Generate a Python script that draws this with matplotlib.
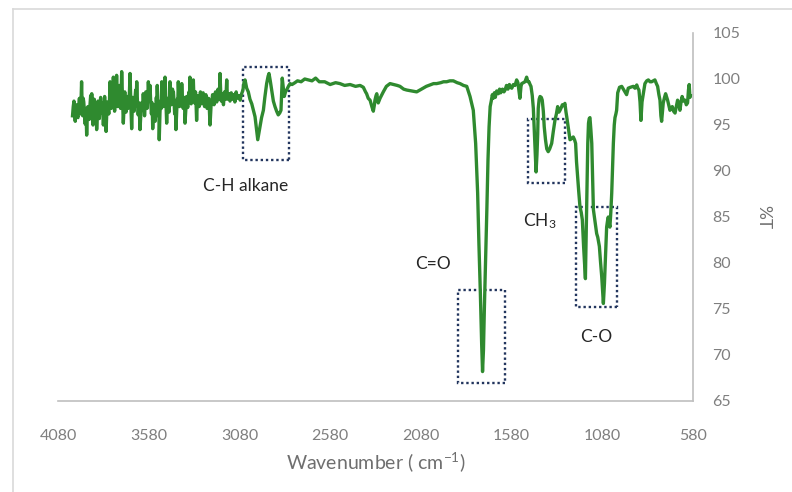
import numpy as np
import matplotlib
matplotlib.use("Agg")
import matplotlib.pyplot as plt
from matplotlib.patches import Rectangle
from matplotlib.lines import Line2D

plt.rcParams['font.family'] = ['Lato', 'DejaVu Sans']
plt.rcParams['mathtext.fontset'] = 'custom'
plt.rcParams['mathtext.rm'] = 'Lato'
plt.rcParams['mathtext.it'] = 'Lato'

# FTIR spectrum (wavenumber cm-1, %T)
# noisy high-wavenumber part
wn_high = [4000, 3996, 3992, 3988, 3985, 3981, 3978, 3974, 3970, 3966, 3962, 3958, 3955, 3952,
           3950, 3947, 3944, 3941, 3938, 3934, 3930, 3926, 3922, 3918, 3915, 3911, 3908, 3904,
           3900, 3897, 3894, 3890, 3887, 3883, 3880, 3876, 3873, 3870, 3867, 3863, 3860, 3856,
           3852, 3848, 3845, 3841, 3838, 3834, 3830, 3826, 3823, 3819, 3815, 3811, 3808, 3804,
           3800, 3796, 3793, 3789, 3786, 3783, 3780, 3778, 3775, 3771, 3768, 3765, 3762, 3760,
           3757, 3754, 3750, 3746, 3742, 3739, 3735, 3732, 3729, 3724, 3720, 3716, 3712, 3708,
           3705, 3701, 3698, 3694, 3690, 3686, 3683, 3678, 3674, 3671, 3668, 3664, 3660, 3656,
           3652, 3649, 3646, 3642, 3638, 3633, 3628, 3624, 3620, 3615, 3610, 3606, 3603, 3599,
           3596, 3592, 3589, 3585, 3582, 3577, 3573, 3569, 3565, 3561, 3558, 3555, 3552, 3548,
           3545, 3541, 3538, 3535, 3533, 3530, 3527, 3524, 3522, 3518, 3515, 3511, 3508, 3504,
           3500, 3497, 3495, 3492, 3490, 3485, 3481, 3478, 3475, 3471, 3468, 3465, 3463, 3459,
           3455, 3452, 3449, 3446, 3444, 3440, 3437, 3433, 3430, 3426, 3423, 3420, 3417, 3413,
           3410, 3407, 3404, 3401, 3398, 3394, 3390, 3387, 3385, 3382, 3380, 3375, 3371, 3368,
           3365, 3361, 3358, 3355, 3353, 3349, 3346, 3343, 3340, 3337, 3334, 3331, 3328, 3325,
           3322, 3319, 3316, 3313, 3310, 3306, 3302, 3298, 3295, 3291, 3288, 3284, 3280, 3276,
           3272, 3268, 3265, 3261, 3258, 3254, 3250, 3246, 3242, 3238, 3235, 3231, 3228, 3224,
           3220, 3216, 3212, 3208, 3205, 3201, 3198, 3195, 3192, 3189, 3187, 3183, 3180, 3177,
           3174, 3171, 3168, 3165, 3162, 3159, 3156, 3153, 3150, 3147, 3144, 3141, 3138, 3135,
           3132, 3128, 3125, 3121, 3118, 3115, 3112, 3108, 3105, 3101, 3098, 3094, 3090, 3086,
           3083, 3079, 3076, 3072, 3068, 3064]
t_high = [96.0, 97.0, 97.6, 96.1, 95.4, 96.8, 97.2, 96.0, 95.8, 97.0, 97.9, 96.7, 96.2, 98.3,
          99.7, 97.1, 96.0, 97.9, 97.5, 96.3, 95.1, 96.8, 93.9, 96.2, 97.0, 96.3, 95.6, 97.1,
          98.2, 96.6, 98.4, 96.8, 95.0, 96.9, 97.8, 96.5, 96.0, 97.3, 94.5, 96.4, 97.6, 96.8,
          95.7, 97.3, 98.0, 96.9, 96.3, 97.4, 95.0, 96.7, 98.1, 96.5, 94.3, 96.4, 97.5, 96.8,
          96.2, 97.8, 99.7, 97.5, 96.8, 97.9, 98.9, 97.8, 100.2, 97.9, 96.5, 97.6, 98.7, 97.4,
          100.4, 98.2, 97.0, 98.0, 99.3, 97.6, 96.8, 98.2, 100.8, 97.6, 95.2, 97.0, 98.6, 97.2,
          96.4, 97.4, 98.1, 96.8, 97.0, 98.7, 100.6, 97.0, 94.6, 96.6, 98.0, 97.1, 96.5, 97.8,
          98.8, 97.6, 99.7, 97.5, 96.1, 97.4, 94.5, 96.0, 97.4, 96.6, 98.4, 97.2, 96.0, 97.3,
          98.6, 97.4, 96.8, 98.1, 99.7, 97.8, 99.3, 97.5, 96.2, 97.4, 94.6, 96.2, 97.2, 96.4,
          95.4, 96.8, 98.0, 97.1, 99.3, 97.3, 96.0, 96.6, 93.4, 96.3, 97.6, 96.8, 99.7, 97.9,
          97.0, 97.6, 98.8, 97.4, 100.2, 97.3, 95.2, 96.9, 97.9, 97.2, 96.4, 97.6, 99.7, 97.9,
          97.2, 97.9, 98.9, 97.6, 98.6, 97.5, 96.2, 97.2, 94.5, 96.4, 97.8, 97.0, 99.7, 97.8,
          97.0, 97.7, 98.4, 97.5, 99.5, 97.7, 96.8, 97.4, 98.0, 97.0, 95.2, 96.9, 98.1, 97.3,
          96.9, 97.7, 98.6, 97.5, 100.2, 98.0, 97.3, 97.8, 98.5, 97.6, 99.9, 98.0, 97.4, 98.0,
          98.6, 97.3, 95.5, 97.1, 98.2, 97.4, 97.0, 97.9, 98.6, 97.6, 97.3, 98.1, 98.5, 97.5,
          97.0, 97.8, 98.3, 97.4, 96.8, 97.4, 97.9, 96.8, 95.0, 96.6, 97.6, 97.8, 98.3, 97.6,
          97.2, 97.9, 98.6, 97.8, 97.5, 98.2, 98.9, 98.0, 97.8, 98.8, 100.6, 98.4, 97.6, 98.0,
          98.4, 97.7, 97.2, 97.9, 98.6, 98.0, 97.8, 98.6, 99.9, 98.4, 97.8, 98.1, 98.4, 97.9,
          97.6, 98.1, 98.5, 98.0, 97.8, 98.1, 98.3, 97.8, 97.5, 98.1, 98.6, 98.1, 97.9, 98.0,
          98.2, 97.9, 97.7, 98.1, 98.4, 98.6]

# C-H stretch region through to the carbonyl
wn_mid = [3060, 3055, 3049, 3040, 3031, 3022, 3012, 3003, 2994, 2986, 2979, 2972, 2967, 2958,
          2948, 2940, 2930, 2922, 2917, 2910, 2902, 2893, 2884, 2875, 2866, 2858, 2851, 2847,
          2844, 2839, 2833, 2826, 2820, 2810, 2801, 2790, 2774, 2760, 2740, 2720, 2700, 2680,
          2660, 2640, 2610, 2580, 2550, 2526, 2500, 2470, 2440, 2415, 2397, 2385, 2379, 2370,
          2360, 2350, 2342, 2336, 2333, 2327, 2323, 2315, 2305, 2295, 2287, 2270, 2250, 2230,
          2210, 2195, 2175, 2158, 2130, 2103, 2085, 2067, 2050, 2030, 2010, 1993, 1970, 1955,
          1938, 1920, 1901, 1880, 1864, 1845, 1827]
t_mid = [98.9, 99.6, 99.9, 99.0, 98.6, 97.8, 97.3, 96.6, 95.9, 94.6, 93.4, 94.2, 94.8, 95.8,
         96.6, 98.0, 99.5, 100.3, 100.6, 99.8, 98.8, 97.6, 97.0, 96.5, 96.1, 96.3, 96.6, 98.5,
         100.1, 99.2, 98.1, 98.6, 98.8, 99.2, 99.5, 99.4, 99.6, 99.8, 99.7, 100.0, 99.9, 99.8,
         100.1, 99.7, 99.7, 99.4, 99.6, 99.5, 99.3, 99.4, 99.2, 99.3, 99.1, 98.6, 98.4, 97.9,
         97.7, 97.0, 96.5, 97.2, 97.7, 98.2, 98.4, 97.4, 97.9, 98.3, 98.6, 99.2, 99.5, 99.4,
         99.3, 99.2, 98.9, 98.8, 98.7, 98.6, 98.8, 99.0, 99.2, 99.35, 99.5, 99.5, 99.6, 99.7,
         99.7, 99.8, 99.8, 99.6, 99.5, 99.3, 99.2]

# carbonyl and fingerprint region
wn_low = [1809, 1791, 1778, 1767, 1760, 1752, 1745, 1740, 1735, 1730, 1723, 1716, 1710, 1704,
          1698, 1692, 1686, 1681, 1675, 1670, 1662, 1653, 1646, 1640, 1630, 1622, 1616, 1608,
          1600, 1592, 1585, 1579, 1570, 1561, 1552, 1545, 1534, 1528, 1524, 1515, 1506, 1497,
          1490, 1484, 1478, 1473, 1466, 1460, 1455, 1451, 1445, 1440, 1436, 1433, 1428, 1423,
          1416, 1411, 1405, 1400, 1393, 1386, 1378, 1370, 1359, 1350, 1341, 1333, 1326, 1319,
          1313, 1306, 1300, 1293, 1286, 1280, 1276, 1268, 1258, 1250, 1240, 1233, 1227, 1222,
          1216, 1210, 1203, 1196, 1190, 1183, 1178, 1173, 1168, 1163, 1160, 1156, 1152, 1148,
          1143, 1138, 1133, 1129, 1122, 1116, 1111, 1105, 1096, 1090, 1083, 1078, 1074, 1068,
          1063, 1056, 1051, 1047, 1042, 1038, 1033, 1028, 1023, 1019, 1014, 1010, 1005, 1001,
          995, 985, 973, 964, 955, 946, 937, 925, 909, 900, 890, 884, 878, 872,
          867, 861, 854, 845, 835, 826, 817, 808, 799, 790, 782, 775, 768, 762,
          757, 753, 748, 744, 737, 731, 725, 720, 714, 707, 700, 694, 687, 679,
          672, 665, 658, 652, 646, 640, 632, 624, 617, 610, 605, 601, 597, 594]
t_low = [98.1, 96.6, 93.0, 87.6, 82.1, 76.7, 71.3, 68.2, 70.5, 75.0, 80.3, 86.0, 91.2, 94.8,
         97.0, 97.6, 98.3, 97.9, 98.5, 98.0, 98.7, 98.4, 98.9, 98.5, 98.9, 98.6, 98.8, 99.3,
         98.9, 99.4, 99.1, 99.0, 99.4, 99.3, 99.9, 99.6, 97.9, 99.2, 99.5, 99.6, 99.7, 100.2,
         99.7, 99.7, 99.4, 99.2, 98.2, 96.8, 94.5, 92.5, 89.9, 91.8, 94.0, 96.8, 97.8, 98.1,
         98.0, 97.7, 96.5, 94.8, 93.4, 92.4, 92.1, 92.4, 93.0, 94.3, 95.5, 96.2, 97.0, 96.4,
         96.6, 96.9, 97.2, 97.1, 97.35, 96.4, 95.9, 94.8, 93.4, 93.5, 93.7, 93.4, 93.0, 91.0,
         89.4, 87.8, 86.1, 85.5, 84.7, 81.8, 80.0, 78.3, 83.9, 89.0, 93.0, 95.2, 95.7, 95.8,
         94.5, 93.0, 89.0, 85.8, 84.8, 84.0, 83.2, 82.8, 81.8, 80.2, 78.5, 76.8, 75.6, 77.8,
         80.3, 83.9, 84.6, 85.0, 84.3, 83.9, 85.5, 87.6, 90.5, 93.0, 95.0, 95.8, 96.2, 96.6,
         98.5, 99.1, 99.2, 98.9, 98.6, 98.3, 99.0, 99.1, 99.2, 99.0, 99.35, 99.0, 98.8, 97.5,
         95.5, 97.5, 98.4, 99.5, 99.8, 99.9, 99.7, 99.7, 99.8, 99.9, 99.5, 99.2, 98.3, 97.7,
         96.0, 95.4, 96.5, 97.4, 98.0, 98.4, 98.0, 97.7, 97.2, 96.6, 96.9, 97.0, 96.5, 96.3,
         97.0, 97.7, 97.2, 96.6, 97.5, 98.1, 97.6, 97.7, 97.2, 97.4, 98.8, 99.4, 98.0, 98.2]

wavenumber = np.array(wn_high + wn_mid + wn_low)
transmittance = np.array(t_high + t_mid + t_low)

# highlighted bands: label, wavenumber span, %T span, label anchor
band_labels = ["C-H alkane", "C=O", "CH$_3$", "C-O"]
band_wn = [(3060, 2807), (1875, 1616), (1490, 1285), (1225, 999)]
band_t = [(91.2, 101.3), (67.0, 77.1), (88.7, 95.7), (75.2, 86.1)]
label_wn = [3044, 2013, 1423, 1115]
label_t = [88.4, 79.9, 84.6, 72.0]

fig = plt.figure(figsize=(7.92, 4.92), dpi=100)
ax = fig.add_axes([58 / 792, 91 / 492, 635 / 792, 368 / 492])

ax.plot(wavenumber, transmittance, color='#2f8a2f', lw=2.4, solid_joinstyle='round')

for (x0, x1), (y0, y1) in zip(band_wn, band_t):
    ax.add_patch(Rectangle((x1, y0), x0 - x1, y1 - y0, fill=False,
                           edgecolor='#22355e', lw=1.7, linestyle=(0, (1, 1.2))))

for lab, x, y in zip(band_labels, label_wn, label_t):
    ax.text(x, y, lab, fontsize=12.5, color='#262626', ha='center', va='center')

ax.set_xlim(4080, 580)
ax.set_ylim(65, 105)
ax.set_xticks(np.arange(4080, 579, -500))
ax.set_yticks(np.arange(65, 106, 5))
ax.yaxis.tick_right()
ax.yaxis.set_label_position('right')
ax.tick_params(axis='both', length=0, labelsize=11.5, labelcolor='#7f7f7f')
ax.tick_params(axis='x', pad=20)
ax.tick_params(axis='y', pad=14)
for s in ['top', 'left']:
    ax.spines[s].set_visible(False)
for s in ['right', 'bottom']:
    ax.spines[s].set_color('#bfbfbf')
    ax.spines[s].set_linewidth(1.2)

ax.set_xlabel('Wavenumber ( cm$^{-1}$)', fontsize=14, color='#6f6f6f', labelpad=5)
ax.set_ylabel('%T', fontsize=12.5, color='#6f6f6f', rotation=270, labelpad=22)

# faint chart-area border
fig.add_artist(Line2D([13 / 792, 13 / 792], [0, 1 - 9 / 492], color='#d9d9d9', lw=1.2))
fig.add_artist(Line2D([13 / 792, 1], [1 - 9 / 492, 1 - 9 / 492], color='#d9d9d9', lw=1.2))

fig.savefig('out.png', dpi=100)
